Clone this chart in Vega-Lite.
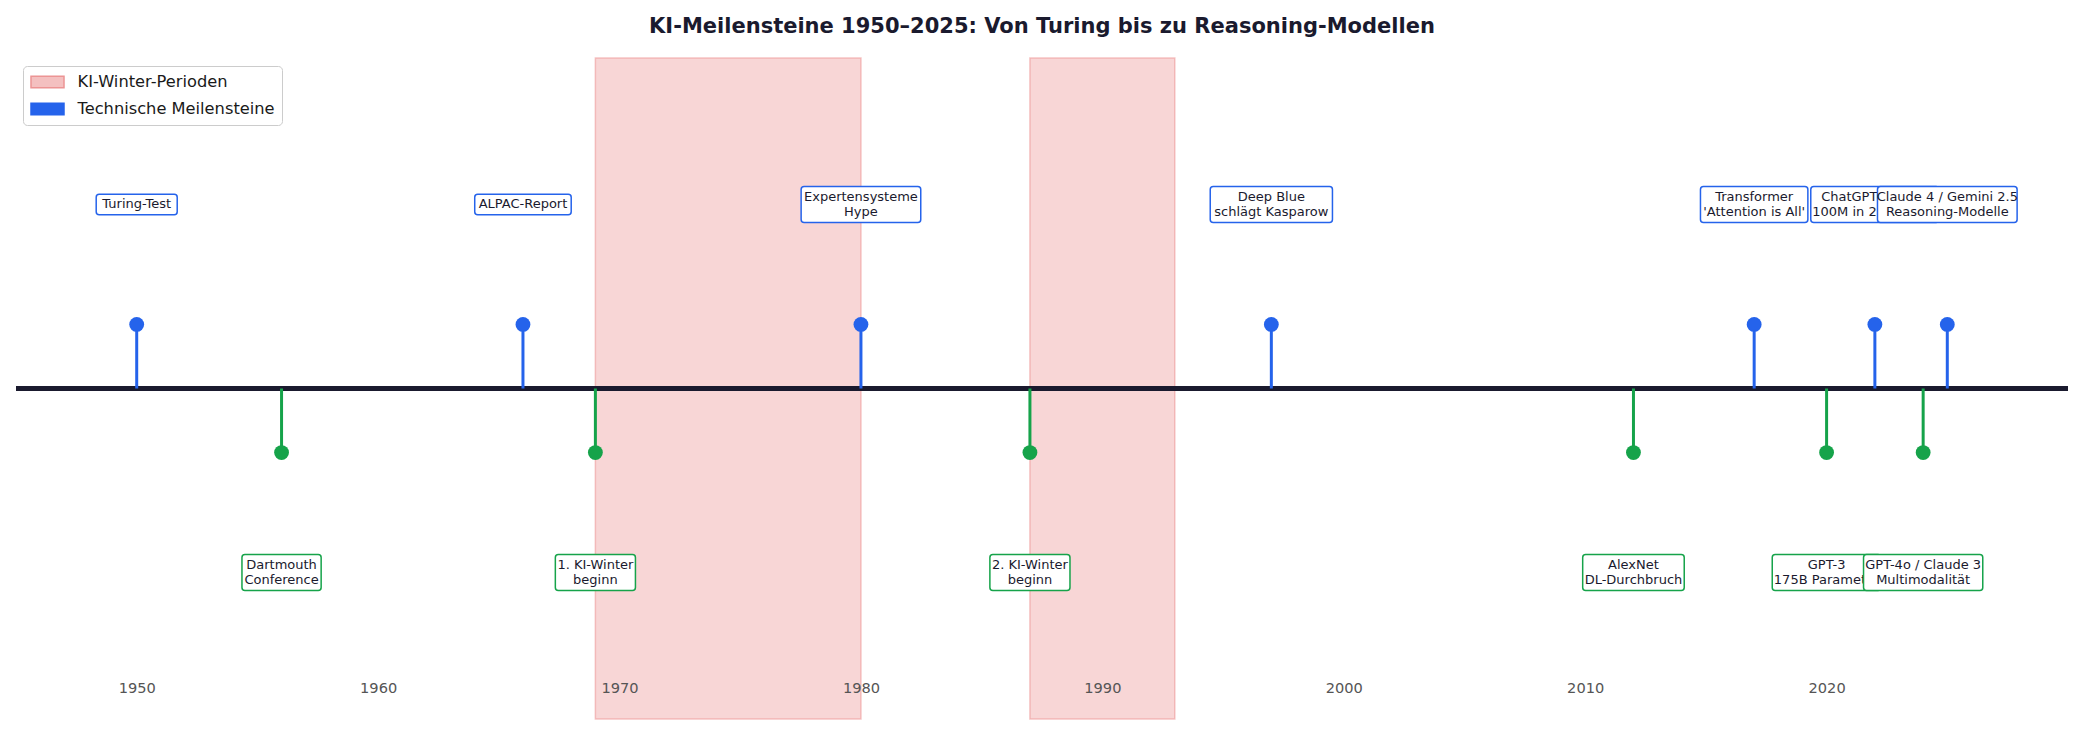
{
  "$schema": "https://vega.github.io/schema/vega-lite/v6.json",
  "width": 2052,
  "height": 661,
  "autosize": {"type": "none"},
  "padding": {"left": 16, "top": 58, "right": 17, "bottom": 16},
  "background": "white",
  "title": {
    "text": "KI-Meilensteine 1950–2025: Von Turing bis zu Reasoning-Modellen",
    "font": "DejaVu Sans",
    "fontSize": 21,
    "fontWeight": "bold",
    "color": "#1a1a2e",
    "anchor": "middle",
    "offset": 20
  },
  "config": {"view": {"stroke": null}, "font": "DejaVu Sans"},
  "layer": [
    {
      "data": {
        "values": [
          {"start": 1969, "end": 1980, "typ": "KI-Winter-Perioden"},
          {"start": 1987, "end": 1993, "typ": "KI-Winter-Perioden"}
        ]
      },
      "mark": {"type": "rect", "fillOpacity": 0.65, "strokeOpacity": 0.55, "strokeWidth": 1.5},
      "encoding": {
        "x": {
          "field": "start",
          "type": "quantitative",
          "title": null,
          "scale": {"domain": [1945, 2030], "nice": false, "zero": false, "padding": 0},
          "axis": {
            "title": null,
            "values": [1950, 1960, 1970, 1980, 1990, 2000, 2010, 2020],
            "format": "d",
            "domain": false,
            "ticks": false,
            "grid": false,
            "labelFont": "DejaVu Sans",
            "labelFontSize": 14.6,
            "labelColor": "#555555",
            "offset": -41,
            "zindex": 1
          }
        },
        "x2": {"field": "end"},
        "fill": {
          "field": "typ",
          "type": "nominal",
          "scale": {"domain": ["KI-Winter-Perioden", "Technische Meilensteine"], "range": ["#f4c0c0", "#2563eb"]},
          "legend": {
            "title": null,
            "orient": "none",
            "legendX": 7,
            "legendY": 8,
            "symbolType": "M-1,-0.71875L3.125,-0.71875L3.125,0.71875L-1,0.71875Z",
            "symbolSize": 256,
            "symbolStrokeWidth": 1.5,
            "labelFont": "DejaVu Sans",
            "labelFontSize": 16.25,
            "labelColor": "#1a1a1a",
            "labelLimit": 0,
            "labelOffset": 29.5,
            "rowPadding": 9,
            "padding": 7,
            "fillColor": "#ffffff",
            "strokeColor": "#cccccc",
            "cornerRadius": 4
          }
        },
        "stroke": {
          "field": "typ",
          "type": "nominal",
          "scale": {"domain": ["KI-Winter-Perioden", "Technische Meilensteine"], "range": ["#ec9494", "#2563eb"]},
          "legend": {
            "title": null,
            "orient": "none",
            "legendX": 7,
            "legendY": 8,
            "symbolType": "M-1,-0.71875L3.125,-0.71875L3.125,0.71875L-1,0.71875Z",
            "symbolSize": 256,
            "symbolStrokeWidth": 1.5,
            "labelFont": "DejaVu Sans",
            "labelFontSize": 16.25,
            "labelColor": "#1a1a1a",
            "labelLimit": 0,
            "labelOffset": 29.5,
            "rowPadding": 9,
            "padding": 7,
            "fillColor": "#ffffff",
            "strokeColor": "#cccccc",
            "cornerRadius": 4
          }
        }
      }
    },
    {
      "data": {"values": [{}]},
      "mark": {"type": "rule", "color": "#1a1a2e", "strokeWidth": 5},
      "encoding": {
        "y": {"datum": 0, "type": "quantitative", "scale": {"domain": [-5.16, 5.16], "nice": false, "zero": false}, "axis": null}
      }
    },
    {
      "data": {
        "values": [
          {"year": 1950, "dir": 1, "label": "Turing-Test"},
          {"year": 1956, "dir": -1, "label": "Dartmouth\nConference"},
          {"year": 1966, "dir": 1, "label": "ALPAC-Report"},
          {"year": 1969, "dir": -1, "label": "1. KI-Winter\nbeginn"},
          {"year": 1980, "dir": 1, "label": "Expertensysteme\nHype"},
          {"year": 1987, "dir": -1, "label": "2. KI-Winter\nbeginn"},
          {"year": 1997, "dir": 1, "label": "Deep Blue\nschlägt Kasparow"},
          {"year": 2012, "dir": -1, "label": "AlexNet\nDL-Durchbruch"},
          {"year": 2017, "dir": 1, "label": "Transformer\n'Attention is All'"},
          {"year": 2020, "dir": -1, "label": "GPT-3\n175B Parameter"},
          {"year": 2022, "dir": 1, "label": "ChatGPT Launch\n100M in 2 Monaten"},
          {"year": 2024, "dir": -1, "label": "GPT-4o / Claude 3\nMultimodalität"},
          {"year": 2025, "dir": 1, "label": "Claude 4 / Gemini 2.5\nReasoning-Modelle"}
        ]
      },
      "transform": [
        {"calculate": "split(datum.label, '\\n')", "as": "lines"},
        {"calculate": "datum.lines[0]", "as": "l0"},
        {"calculate": "length(datum.lines) > 1 ? datum.lines[1] : ''", "as": "l1"},
        {"calculate": "0.6*length(datum.l0) - 0.31*length(replace(datum.l0, regexp(\"[^ijlI .,:/']\", \"g\"), '')) - 0.22*length(replace(datum.l0, regexp(\"[^ftr-]\", \"g\"), '')) + 0.33*length(replace(datum.l0, regexp(\"[^mwMW]\", \"g\"), '')) + 0.07*length(replace(datum.l0, regexp(\"[^A-HKLN-VX-Z]\", \"g\"), ''))", "as": "w0"},
        {"calculate": "0.6*length(datum.l1) - 0.31*length(replace(datum.l1, regexp(\"[^ijlI .,:/']\", \"g\"), '')) - 0.22*length(replace(datum.l1, regexp(\"[^ftr-]\", \"g\"), '')) + 0.33*length(replace(datum.l1, regexp(\"[^mwMW]\", \"g\"), '')) + 0.07*length(replace(datum.l1, regexp(\"[^A-HKLN-VX-Z]\", \"g\"), ''))", "as": "w1"},
        {"calculate": "13 * max(datum.w0, datum.w1) + 6", "as": "bw"},
        {"calculate": "datum.dir * 2.873", "as": "ly"},
        {"calculate": "datum.ly + (length(datum.lines) - 1) * 7.8 / 64.05", "as": "ty"},
        {"calculate": "(length(datum.lines) * 15.6 + 5) / 2 / 64.05", "as": "hh"},
        {"calculate": "datum.ly - datum.hh", "as": "by"},
        {"calculate": "datum.ly + datum.hh", "as": "by2"}
      ],
      "layer": [
        {
          "mark": {"type": "rule", "strokeWidth": 3},
          "encoding": {
            "x": {"field": "year", "type": "quantitative", "title": null},
            "y": {"field": "dir", "type": "quantitative", "axis": null},
            "y2": {"datum": 0},
            "color": {"condition": {"test": "datum.dir > 0", "value": "#2563eb"}, "value": "#16a34a"}
          }
        },
        {
          "mark": {"type": "point", "filled": true, "size": 220, "opacity": 1},
          "encoding": {
            "x": {"field": "year", "type": "quantitative", "title": null},
            "y": {"field": "dir", "type": "quantitative", "axis": null},
            "color": {"condition": {"test": "datum.dir > 0", "value": "#2563eb"}, "value": "#16a34a"}
          }
        },
        {
          "transform": [{"filter": "datum.year < 2022"}],
          "mark": {"type": "bar", "fill": "#ffffff", "strokeWidth": 1.5, "cornerRadius": 3},
          "encoding": {
            "x": {"field": "year", "type": "quantitative", "title": null},
            "y": {"field": "by", "type": "quantitative", "axis": null},
            "y2": {"field": "by2"},
            "size": {"field": "bw", "type": "quantitative", "scale": null},
            "stroke": {"condition": {"test": "datum.dir > 0", "value": "#2563eb"}, "value": "#16a34a"}
          }
        },
        {
          "transform": [{"filter": "datum.year < 2022"}],
          "mark": {"type": "text", "fontSize": 13, "lineHeight": 15.6, "lineBreak": "\n", "color": "#1a1a2e", "baseline": "middle", "align": "center"},
          "encoding": {
            "x": {"field": "year", "type": "quantitative", "title": null},
            "y": {"field": "ty", "type": "quantitative", "axis": null},
            "text": {"field": "label"}
          }
        },
        {
          "transform": [{"filter": "datum.year >= 2022 && datum.year < 2025"}],
          "mark": {"type": "bar", "fill": "#ffffff", "strokeWidth": 1.5, "cornerRadius": 3},
          "encoding": {
            "x": {"field": "year", "type": "quantitative", "title": null},
            "y": {"field": "by", "type": "quantitative", "axis": null},
            "y2": {"field": "by2"},
            "size": {"field": "bw", "type": "quantitative", "scale": null},
            "stroke": {"condition": {"test": "datum.dir > 0", "value": "#2563eb"}, "value": "#16a34a"}
          }
        },
        {
          "transform": [{"filter": "datum.year >= 2022 && datum.year < 2025"}],
          "mark": {"type": "text", "fontSize": 13, "lineHeight": 15.6, "lineBreak": "\n", "color": "#1a1a2e", "baseline": "middle", "align": "center"},
          "encoding": {
            "x": {"field": "year", "type": "quantitative", "title": null},
            "y": {"field": "ty", "type": "quantitative", "axis": null},
            "text": {"field": "label"}
          }
        },
        {
          "transform": [{"filter": "datum.year >= 2025"}],
          "mark": {"type": "bar", "fill": "#ffffff", "strokeWidth": 1.5, "cornerRadius": 3},
          "encoding": {
            "x": {"field": "year", "type": "quantitative", "title": null},
            "y": {"field": "by", "type": "quantitative", "axis": null},
            "y2": {"field": "by2"},
            "size": {"field": "bw", "type": "quantitative", "scale": null},
            "stroke": {"condition": {"test": "datum.dir > 0", "value": "#2563eb"}, "value": "#16a34a"}
          }
        },
        {
          "transform": [{"filter": "datum.year >= 2025"}],
          "mark": {"type": "text", "fontSize": 13, "lineHeight": 15.6, "lineBreak": "\n", "color": "#1a1a2e", "baseline": "middle", "align": "center"},
          "encoding": {
            "x": {"field": "year", "type": "quantitative", "title": null},
            "y": {"field": "ty", "type": "quantitative", "axis": null},
            "text": {"field": "label"}
          }
        }
      ]
    }
  ]
}
